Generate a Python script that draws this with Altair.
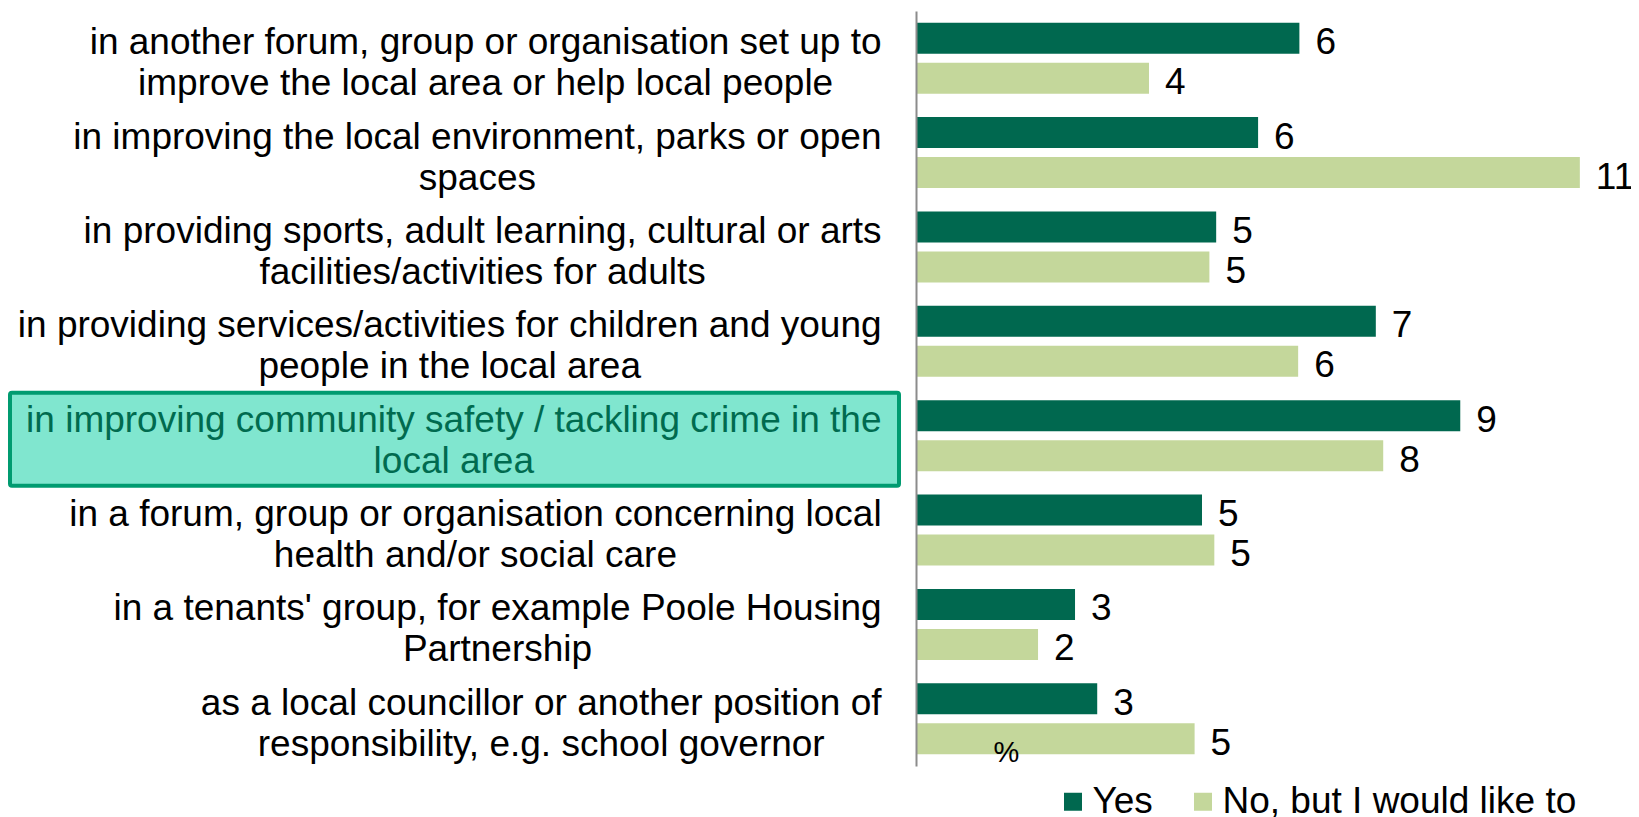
import json
import altair as alt
import pandas as pd

# ---- data ----
categories = [
    "in another forum, group or organisation set up to|improve the local area or help local people",
    "in improving the local environment, parks or open|spaces",
    "in providing sports, adult learning, cultural or arts|facilities/activities for adults",
    "in providing services/activities for children and young|people in the local area",
    "in improving community safety / tackling crime in the|local area",
    "in a forum, group or organisation concerning local|health and/or social care",
    "in a tenants' group, for example Poole Housing|Partnership",
    "as a local councillor or another position of|responsibility, e.g. school governor",
]
series = ["Yes", "No, but I would like to"]
yes_values = [6.22, 5.55, 4.87, 7.46, 8.83, 4.64, 2.58, 2.94]
no_values = [3.78, 10.77, 4.76, 6.20, 7.58, 4.84, 1.98, 4.52]
highlighted = categories[4]
unit_title = "%"

rows = []
for c, yv, nv in zip(categories, yes_values, no_values):
    rows.append({"category": c, "series": series[0], "value": yv})
    rows.append({"category": c, "series": series[1], "value": nv})
df = pd.DataFrame(rows)

# ---- style ----
FONT = "Liberation Sans"
FS = 37
W, H = 715, 755
XMAX = 11.6
YES_COLOR = "#00684F"
NO_COLOR = "#C4D79B"
HL_FILL = "#80E6CF"
HL_STROKE = "#009B70"
HL_TEXT = "#006B4F"
GAP = 35

# Arial / Liberation Sans advance widths (1/1000 em) for centring wrapped lines
ADV = {" ": 278, "'": 191, ",": 278, "-": 333, ".": 278, "/": 278,
       "a": 556, "b": 556, "c": 500, "d": 556, "e": 556, "f": 278, "g": 556,
       "h": 556, "i": 222, "j": 222, "k": 500, "l": 222, "m": 833, "n": 556,
       "o": 556, "p": 556, "q": 556, "r": 333, "s": 500, "t": 278, "u": 556,
       "v": 500, "w": 722, "x": 500, "y": 500, "z": 500,
       "P": 667, "H": 722, "I": 278, "N": 722, "Y": 667}


def text_width(s):
    return sum(ADV.get(ch, 556) for ch in s) / 1000.0 * FS


pad_conditions = []
for c in categories:
    w = max(text_width(line) for line in c.split("|"))
    pad_conditions.append({"test": f"datum.value === {json.dumps(c)}",
                           "value": round(GAP + w / 2, 1)})

y_axis = alt.Axis(
    title=None, grid=False, ticks=False, tickSize=0,
    domain=True, domainColor="#8C8C8C", domainWidth=2,
    labelFont=FONT, labelFontSize=FS, labelLineHeight=41,
    labelAlign="center", labelBaseline="middle", labelLimit=0,
    labelExpr="split(datum.label, '|')",
    labelPadding={"condition": pad_conditions, "value": GAP},
    labelColor={"condition": {"test": f"datum.value === {json.dumps(highlighted)}",
                              "value": HL_TEXT}, "value": "black"},
    labelOffset=-15,
    zindex=1,
)
x_axis = alt.Axis(
    domain=False, ticks=False, labels=False, grid=False,
    title=unit_title, titleFont=FONT, titleFontSize=29, titleFontWeight="normal",
    titleColor="black", titleX=90, titleY=-14, titleAlign="center",
    titleBaseline="middle", zindex=1,
)

y_scale = alt.Scale(domain=categories, paddingInner=0.248, paddingOuter=0.124)
yoff_scale = alt.Scale(domain=series, paddingInner=0.225, paddingOuter=0)
x_scale = alt.Scale(domain=[0, XMAX], nice=False, zero=True)

y_enc = alt.Y("category:N", scale=y_scale, axis=y_axis, sort=categories)
x_enc = alt.X("value:Q", scale=x_scale, axis=x_axis)
yoff_enc = alt.YOffset("series:N", scale=yoff_scale, sort=series)

legend = alt.Legend(
    title=None, orient="none", legendX=138.5, legendY=772, direction="horizontal",
    symbolType="square", symbolSize=324, symbolStrokeWidth=0,
    labelFont=FONT, labelFontSize=FS, labelColor="black", labelOffset=1,
    columnPadding=31, padding=0, labelLimit=0,
)

box = alt.Chart(pd.DataFrame({"category": [highlighted]})).mark_bar(
    height={"band": 1.31}, fill=HL_FILL, stroke=HL_STROKE, strokeWidth=4,
    cornerRadius=2,
).encode(y=y_enc, x=alt.value(-906), x2=alt.value(-17), yOffset=alt.value(3.5))

base = alt.Chart(df)
bars = base.mark_bar().encode(
    x=x_enc, y=y_enc, yOffset=yoff_enc,
    color=alt.Color("series:N", scale=alt.Scale(domain=series, range=[YES_COLOR, NO_COLOR]),
                    legend=legend, sort=series),
)
labels = base.mark_text(align="left", baseline="middle", dx=16, dy=5, font=FONT,
                        fontSize=FS, color="black").encode(
    x=x_enc, y=y_enc, yOffset=yoff_enc, text=alt.Text("value:Q", format=".0f"),
)

chart = alt.layer(box, bars, labels).properties(
    width=W, height=H,
    padding={"left": 908, "top": 3, "right": 0, "bottom": 54},
    autosize=alt.AutoSizeParams(type="none"),
).configure(font=FONT, view=alt.ViewConfig(stroke=None))

chart.save("out.html", embed_options={"renderer": "svg", "actions": False})
